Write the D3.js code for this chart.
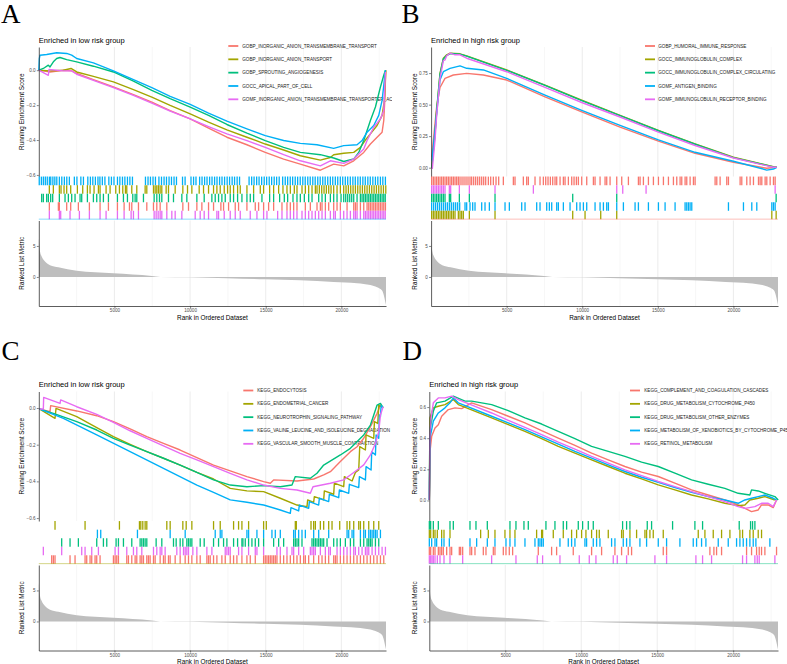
<!DOCTYPE html>
<html>
<head>
<meta charset="utf-8">
<script src="https://cdn.jsdelivr.net/npm/d3@7"></script>
<style>
body { margin: 0; background: #fff; }
svg { display: block; }
text { font-family: "Liberation Sans", Arial, sans-serif; }
</style>
</head>
<body>
<svg id="fig" width="787" height="664"></svg>
<script>

// ---- data ----

var seriesColors = ["#F8766D", "#A3A500", "#00BF7D", "#00B0F6", "#E76BF3"];
var panelLetters = ["A", "B", "C", "D"];
var panelTitles = ["Enriched in low risk group", "Enriched in high risk group", "Enriched in low risk group", "Enriched in high risk group"];
var rankTicks = [5000, 10000, 15000, 20000];
var gridRanks = [2500, 5000, 7500, 10000, 12500, 15000, 17500, 20000, 22500];
var rankMax = 22950;

var metricTicks = [0, 5];
var metricDomain = [-4.68, 9.1];
// ranked list metric (same ranked list for all four panels)
var metricRank  = [0, 40, 80, 190, 410, 741, 1293, 2506, 4933, 7470, 8021, 10007, 12434, 14970, 17287, 19493, 21037, 21920, 22361, 22692, 22802, 22913, 22950];
var metricValue = [6.2, 5.0, 4.1, 3.3, 2.5, 1.9, 1.56, 1.0, 0.6, 0.16, 0.0, -0.06, -0.22, -0.38, -0.54, -0.8, -1.0, -1.3, -1.66, -2.2, -2.9, -4.1, -4.5];

// panel A
var namesA = ["GOBP_INORGANIC_ANION_TRANSMEMBRANE_TRANSPORT", "GOBP_INORGANIC_ANION_TRANSPORT", "GOBP_SPROUTING_ANGIOGENESIS", "GOCC_APICAL_PART_OF_CELL", "GOMF_INORGANIC_ANION_TRANSMEMBRANE_TRANSPORTER_ACTIVITY"];
var esTicksA = [-0.6, -0.4, -0.2, 0.0];
var esDomainA = [-0.609, 0.133];
var rugOrderA = [3, 1, 2, 0, 4];
var esA = [
  [[0,0],[300,-0.004],[741,-0.01],[1624,0],[2175,-0.004],[2506,-0.019],[3609,-0.054],[4933,-0.096],[6256,-0.14],[7470,-0.183],[8683,-0.231],[10007,-0.279],[11220,-0.332],[12434,-0.384],[13757,-0.427],[14970,-0.471],[16184,-0.509],[17287,-0.538],[18610,-0.573],[19493,-0.538],[20154,-0.548],[20816,-0.519],[21478,-0.471],[21920,-0.423],[22361,-0.384],[22692,-0.355],[22802,-0.288],[22868,-0.173],[22935,0]],
  [[0,0],[741,-0.004],[1624,0],[2131,0.01],[2506,-0.01],[3609,-0.035],[4933,-0.067],[6256,-0.111],[7470,-0.154],[8683,-0.202],[10007,-0.25],[11220,-0.298],[12434,-0.342],[13757,-0.384],[14970,-0.423],[16184,-0.457],[17287,-0.49],[18610,-0.515],[19272,-0.5],[19493,-0.484],[20154,-0.476],[20816,-0.471],[21258,-0.442],[21589,-0.4],[21920,-0.365],[22361,-0.317],[22692,-0.259],[22846,-0.173],[22935,0]],
  [[0,0],[300,0.01],[631,0.029],[741,0.019],[962,0.048],[1182,0.067],[1403,0.073],[1844,0.061],[2506,0.048],[3609,0.023],[4933,-0.01],[6256,-0.063],[7470,-0.115],[8683,-0.163],[10007,-0.211],[11220,-0.259],[12434,-0.311],[13757,-0.361],[14970,-0.403],[16184,-0.442],[17287,-0.471],[18610,-0.484],[19493,-0.503],[20155,-0.523],[20816,-0.509],[21147,-0.471],[21478,-0.403],[21920,-0.288],[22251,-0.211],[22582,-0.096],[22802,-0.029],[22913,0]],
  [[0,0],[35,0.067],[79,0.086],[521,0.09],[1182,0.1],[1844,0.096],[2175,0.086],[2506,0.067],[3609,0.042],[4933,-0.004],[6256,-0.054],[7470,-0.1],[8683,-0.15],[10007,-0.196],[11220,-0.246],[12434,-0.292],[13757,-0.336],[14970,-0.375],[16184,-0.403],[17287,-0.419],[18390,-0.427],[19493,-0.448],[20155,-0.432],[21037,-0.427],[21368,-0.403],[21699,-0.355],[22140,-0.317],[22471,-0.259],[22692,-0.173],[22913,0]],
  [[0,0],[631,-0.029],[675,0.004],[1624,-0.004],[2175,-0.004],[2506,-0.023],[3609,-0.058],[4933,-0.1],[6256,-0.144],[7470,-0.188],[8683,-0.234],[10007,-0.279],[11220,-0.323],[12434,-0.365],[13757,-0.403],[14970,-0.442],[16184,-0.484],[17287,-0.519],[18610,-0.548],[19272,-0.519],[20154,-0.534],[20816,-0.509],[21478,-0.451],[21699,-0.403],[22140,-0.327],[22582,-0.279],[22802,-0.231],[22913,-0.01]]
];
var hitsA = [
  [697,1293,1359,1844,2109,2616,3344,4050,4602,5197,5639,5992,6146,6588,7139,7580,7800,8021,8462,9521,9896,10448,10779,11220,11551,12036,12213,12544,12985,13205,13757,14309,14529,14860,15191,15522,16074,16405,16625,16846,17066,17618,17949,18390,18611,18721,18942,19162,19493,19714,19934,20376,20817,20927,21037,21258,21479,21699,21810,21920,22030,22140,22251,22361,22471,22582,22692,22802,22912],
  [697,962,1359,1469,1668,1844,2109,2550,2903,3212,3388,3653,3940,4050,4447,4712,5087,5330,5550,5727,5815,6146,6477,7029,7139,7580,7690,7800,7910,8020,8130,8418,8573,9014,9521,9830,10117,10602,10889,11220,11551,11772,11992,12257,12478,12654,12875,13140,13316,13758,14199,14640,14860,15258,15522,15853,16140,16405,16626,16890,17067,17398,17618,17839,18060,18280,18390,18545,18700,18854,19008,19163,19317,19493,19714,19934,20155,20309,20464,20618,20773,20927,21082,21236,21390,21545,21699,21854,22008,22162,22317,22471,22626,22780,22935],
  [190,300,521,631,785,918,1359,1734,1954,2175,2396,2727,2837,3212,3609,3830,4050,4271,4602,5197,5595,5859,6212,6367,6477,6918,7624,7800,7977,8131,8572,8903,9455,9786,10448,10933,11440,11661,11882,12102,12323,12654,12875,13140,13427,13758,13978,14199,14750,15258,15522,15919,16228,16449,16802,17066,17287,17552,17839,18060,18501,18721,18942,19273,19493,19714,19979,20155,20287,20419,20552,20684,20816,21037,21258,21368,21478,21589,21699,21810,21920,22030,22140,22251,22361,22471,22582,22692,22802,22900],
  [30,170,300,430,560,700,790,930,1060,1190,1360,1520,1690,1850,2020,2350,2520,2780,2950,3240,3410,3570,3740,3910,4040,4200,4370,4630,4800,4970,5200,5360,5530,5690,5860,6020,6190,7050,7220,7380,7550,7710,7940,8110,8280,8440,8610,8770,8940,9100,9500,9670,10060,10230,10390,10630,10790,10960,11120,11290,11450,11620,11780,11950,12110,12280,12450,12610,12780,12940,13110,13270,13900,14070,14230,14400,14560,14730,14900,15060,15230,15390,15560,15720,15890,16120,16290,16450,16620,16780,16950,17110,17280,17450,17610,17780,17940,18110,18270,18440,18600,18770,18930,19100,19270,19430,19600,19760,19930,20090,20260,20420,20590,20760,20920,21090,21250,21420,21580,21750,21910,22080,22250,22410,22580,22740,22910],
  [697,1359,1447,2065,2683,3344,4050,4447,5197,5639,6102,6256,6587,7624,7756,7889,8021,8131,8462,8793,9014,9455,10338,10669,10933,11220,11771,11882,12257,12654,12985,13316,13978,14419,14860,15081,15787,16074,16405,16625,16846,17066,17397,17618,17839,18059,18280,18501,18721,18942,19273,19493,19604,19934,20155,20376,20596,20817,20927,21037,21258,21479,21589,21699,21810,21920,22030,22140,22251,22361,22471,22582,22692,22802,22900]
];

// panel B
var namesB = ["GOBP_HUMORAL_IMMUNE_RESPONSE", "GOCC_IMMUNOGLOBULIN_COMPLEX", "GOCC_IMMUNOGLOBULIN_COMPLEX_CIRCULATING", "GOMF_ANTIGEN_BINDING", "GOMF_IMMUNOGLOBULIN_RECEPTOR_BINDING"];
var esTicksB = [0.00, 0.25, 0.50, 0.75];
var esDomainB = [-0.07, 0.957];
var rugOrderB = [0, 4, 2, 3, 1];
var esB = [
  [[37,0.083],[148,0.216],[368,0.482],[589,0.636],[920,0.708],[1472,0.735],[2354,0.748],[3457,0.735],[5001,0.695],[7538,0.562],[9965,0.442],[12501,0.322],[15038,0.21],[17464,0.114],[20001,0.043],[22207,-0.005],[22868,0.003]],
  [[37,0],[258,0.269],[368,0.455],[589,0.748],[810,0.868],[1030,0.895],[1251,0.908],[1913,0.903],[2354,0.887],[5001,0.775],[7538,0.655],[9965,0.535],[12501,0.415],[15038,0.296],[17464,0.189],[20001,0.083],[22648,0.008],[22868,0.003]],
  [[37,0],[258,0.262],[368,0.45],[589,0.742],[810,0.862],[1030,0.89],[1300,0.905],[1913,0.9],[2354,0.884],[5001,0.772],[7538,0.652],[9965,0.532],[12501,0.412],[15038,0.293],[17464,0.186],[20001,0.08],[22648,0.006],[22868,0.003]],
  [[37,0.056],[148,0.162],[368,0.429],[589,0.695],[810,0.761],[1251,0.788],[1913,0.807],[2354,0.788],[3457,0.775],[5001,0.708],[7538,0.575],[9965,0.455],[12501,0.335],[15038,0.221],[17464,0.122],[20001,0.051],[22207,-0.019],[22648,-0.011],[22868,0.003]],
  [[80,-0.01],[258,0.216],[368,0.415],[589,0.708],[810,0.849],[920,0.855],[1030,0.887],[1251,0.908],[1582,0.895],[1913,0.895],[2354,0.868],[5001,0.761],[7538,0.636],[9965,0.517],[12501,0.402],[15038,0.282],[17464,0.176],[20001,0.077],[22648,0.003],[22868,0.003]]
];
var hitsB = [
  [37,148,258,368,479,589,699,810,920,1030,1141,1251,1361,1472,1582,1692,1802,1913,2045,2177,2310,2442,2574,2685,2817,2949,3082,3214,3347,3479,3611,3788,3942,4119,4295,4471,4780,5442,5552,6103,6324,6434,6875,7206,7427,7582,7736,7891,8045,8199,8310,8531,8751,8862,9082,9303,9457,9612,9744,9965,10296,10737,10847,11178,11509,11619,11840,12281,12612,13053,13715,13825,14046,14377,14708,15039,15370,15701,16032,16252,16473,16583,16804,16914,17135,17355,17466,18789,18900,19120,19561,19672,20444,20554,20885,21106,21327,21658,21768,21878,22099,22209,22430,22650,22761],
  [37,148,258,368,479,589,699,810,920,1030,1141,1251,1361,1472,1582,1802,1913,2023,2133,2530,4229,9369,10185,11222,12281,22540,22827],
  [37,148,258,368,479,589,699,810,920,1207,1295,1869,2530,4229,9369,12281,22827],
  [37,170,302,434,567,699,832,964,1096,1229,1361,1493,1626,1758,1891,2244,2354,2574,2751,2905,3347,3567,3854,4229,4891,5177,5994,6214,6986,7206,7648,7824,7979,8310,8420,8751,9192,9633,9854,10075,10295,10847,11178,11399,11619,11730,12281,12722,13494,13715,14377,15039,15480,16141,16803,16914,17024,17134,17245,19672,20665,21216,21547,22540,22650,22761],
  [37,148,258,368,479,589,699,810,920,1207,1295,1869,2530,4229,6766,12281,12678,14222,22761]
];

// panel C
var namesC = ["KEGG_ENDOCYTOSIS", "KEGG_ENDOMETRIAL_CANCER", "KEGG_NEUROTROPHIN_SIGNALING_PATHWAY", "KEGG_VALINE_LEUCINE_AND_ISOLEUCINE_DEGRADATION", "KEGG_VASCULAR_SMOOTH_MUSCLE_CONTRACTION"];
var esTicksC = [-0.6, -0.4, -0.2, 0.0];
var esDomainC = [-0.616, 0.09];
var rugOrderC = [1, 3, 2, 4, 0];
var esC = [
  [[35,-0.005],[741,-0.02],[785,0.013],[2506,-0.016],[3830,-0.042],[4933,-0.074],[6036,-0.114],[7139,-0.156],[8242,-0.193],[9345,-0.229],[10448,-0.271],[11551,-0.311],[12654,-0.343],[13757,-0.374],[14860,-0.401],[15301,-0.41],[15522,-0.392],[17066,-0.398],[18169,-0.387],[18831,-0.365],[19272,-0.347],[19934,-0.292],[20596,-0.238],[21037,-0.211],[21478,-0.165],[21920,-0.102],[22361,-0.029],[22582,0.016],[22758,0.002]],
  [[35,-0.005],[1072,-0.056],[1138,-0.002],[2506,-0.047],[3830,-0.107],[4933,-0.156],[6036,-0.198],[7139,-0.238],[8242,-0.274],[9345,-0.311],[10448,-0.351],[11551,-0.387],[12654,-0.438],[13757,-0.452],[14860,-0.456],[15963,-0.492],[17066,-0.529],[17728,-0.538],[17772,-0.501],[18169,-0.514],[18213,-0.483],[18831,-0.501],[18875,-0.452],[19493,-0.47],[19537,-0.41],[20154,-0.429],[20199,-0.374],[20706,-0.398],[20927,-0.351],[21147,-0.338],[21213,-0.211],[21588,-0.229],[21632,-0.147],[22140,-0.165],[22184,-0.074],[22405,-0.084],[22471,0.016],[22758,0.002]],
  [[35,-0.005],[962,-0.029],[2506,-0.074],[3830,-0.12],[4933,-0.165],[6036,-0.202],[7139,-0.238],[8242,-0.274],[9345,-0.311],[10448,-0.351],[11551,-0.392],[12654,-0.42],[13757,-0.429],[14860,-0.423],[15963,-0.429],[16735,-0.42],[16955,-0.374],[17948,-0.383],[18390,-0.356],[18831,-0.311],[19934,-0.256],[20596,-0.22],[21478,-0.147],[21920,-0.093],[22361,0.016],[22582,0.025],[22758,0.002]],
  [[35,-0.005],[1624,-0.056],[3830,-0.147],[6036,-0.238],[8242,-0.329],[10448,-0.42],[11551,-0.46],[12654,-0.501],[13757,-0.514],[14860,-0.529],[15963,-0.556],[16625,-0.574],[16669,-0.543],[17177,-0.561],[17221,-0.529],[17838,-0.547],[17883,-0.51],[18500,-0.529],[18544,-0.492],[19162,-0.51],[19206,-0.47],[19823,-0.489],[19868,-0.447],[20485,-0.465],[20529,-0.416],[21147,-0.434],[21191,-0.374],[21588,-0.392],[21632,-0.32],[21963,-0.338],[22007,-0.238],[22251,-0.256],[22295,-0.147],[22471,-0.165],[22515,-0.038],[22582,-0.047],[22626,0.013],[22758,0.002]],
  [[35,-0.005],[300,-0.005],[322,0.058],[1403,0.025],[1447,0.044],[2506,0.007],[3830,-0.035],[4933,-0.078],[6036,-0.124],[7139,-0.165],[8242,-0.207],[9345,-0.247],[10448,-0.283],[11551,-0.32],[12654,-0.356],[13757,-0.392],[14860,-0.42],[15963,-0.438],[17066,-0.447],[17948,-0.465],[18125,-0.429],[19272,-0.41],[20154,-0.392],[20596,-0.365],[21037,-0.338],[21478,-0.31],[21920,-0.256],[22251,-0.193],[22471,-0.129],[22582,-0.038],[22758,0.007]]
];
var hitsC = [
  [852,962,1072,2065,2396,3058,3168,3388,3499,3719,3830,4050,4933,5043,5153,5264,5815,5925,6146,6367,6477,6698,6808,6918,7139,7249,7359,7580,7690,8021,8241,8351,8572,8683,9014,9344,9675,9896,10117,10448,10669,11110,11220,11330,11551,11772,12102,12323,12654,12875,13095,13426,13757,13978,14309,14860,14970,15081,15191,15301,15412,15522,15632,15742,15963,16184,16405,16626,16846,17066,17287,17508,17618,17839,18169,18501,18721,18942,19162,19493,19604,19714,19934,20155,20376,20596,20817,21037,21258,21478,21699,21920,22140,22361,22582,22802],
  [1072,3058,5330,6653,6742,6874,7029,7139,8462,8683,9521,9742,10117,11551,11992,12875,13205,13426,13868,14860,15037,16956,17022,17993,18169,18280,18610,18831,19162,19383,19890,20376,20552,20817,21147,21258,21478,21809,22140,22471],
  [1513,2065,2616,3830,4271,4492,5109,5264,5595,6146,6698,6808,6918,7029,7139,7756,8131,8903,9080,9344,9521,9786,9896,10007,10117,10669,10933,11551,11882,12213,12434,12875,13140,13426,13492,13647,13867,14088,14309,14529,14860,15522,15853,16184,16846,16956,17066,17177,17397,18059,18169,18280,18390,18501,18611,18721,18831,19052,19493,19714,19934,20265,20596,20817,21258,21478,21699,21810,21920,22030,22251,22471],
  [3874,4094,6521,8683,9676,11661,11992,12102,13757,13868,14419,14860,15411,15632,15963,16846,16956,17177,17397,17618,18169,18501,19162,20376,20486,20706,20817,21258,21478,21589,21810,21920,22030,22140,22251,22361,22582],
  [300,1513,2837,3058,3499,3940,5043,5264,5815,6256,6477,6808,7580,7800,8021,8131,8351,9123,9344,9565,9676,9786,9896,10183,10448,11110,11441,12323,12434,12544,12654,13205,13426,13867,14309,14419,14860,15742,15963,16405,16736,16846,17177,17508,17949,18059,18169,18280,18611,18942,19162,19273,19714,19934,20155,20376,20596,20817,20927,21147,21368,21589,21699,21810,22030,22251,22471,22692,22912]
];

// panel D
var namesD = ["KEGG_COMPLEMENT_AND_COAGULATION_CASCADES", "KEGG_DRUG_METABOLISM_CYTOCHROME_P450", "KEGG_DRUG_METABOLISM_OTHER_ENZYMES", "KEGG_METABOLISM_OF_XENOBIOTICS_BY_CYTOCHROME_P450", "KEGG_RETINOL_METABOLISM"];
var esTicksD = [0.0, 0.2, 0.4, 0.6];
var esDomainD = [-0.132, 0.70];
var rugOrderD = [2, 1, 3, 0, 4];
var esD = [
  [[0,0.003],[46,0.315],[156,0.412],[375,0.466],[594,0.487],[814,0.541],[1252,0.584],[1691,0.595],[2130,0.59],[2787,0.627],[4103,0.584],[5199,0.541],[6296,0.498],[7392,0.448],[8489,0.401],[9585,0.354],[10682,0.304],[11778,0.261],[12875,0.218],[13971,0.182],[15068,0.154],[16164,0.111],[17261,0.068],[18357,0.035],[19454,0.003],[20331,-0.029],[21208,-0.072],[21647,-0.061],[21866,-0.029],[22305,-0.029],[22634,-0.046],[22853,0.003]],
  [[0,0.003],[46,0.53],[265,0.595],[594,0.605],[1033,0.616],[1581,0.648],[1910,0.616],[4103,0.53],[5199,0.487],[6296,0.444],[7392,0.397],[8489,0.347],[9585,0.304],[10682,0.261],[11778,0.218],[12875,0.175],[13971,0.139],[15068,0.1],[16164,0.068],[17261,0.035],[18357,0.01],[19454,-0.018],[20331,-0.033],[20770,-0.029],[21099,0.003],[21647,0.014],[22086,0.025],[22743,0.003]],
  [[0,0.003],[24,0.315],[68,0.466],[265,0.573],[485,0.627],[1033,0.638],[1581,0.67],[2349,0.638],[2787,0.638],[4103,0.616],[5199,0.577],[6296,0.53],[7392,0.491],[8489,0.444],[9585,0.397],[10682,0.347],[11778,0.315],[12875,0.283],[13971,0.246],[15068,0.218],[16164,0.175],[17261,0.132],[18357,0.104],[19454,0.078],[20331,0.046],[21099,0.035],[21208,0.068],[21647,0.061],[22086,0.046],[22743,0.025],[22963,0.003]],
  [[0,0.003],[46,0.401],[265,0.509],[594,0.562],[1033,0.595],[1362,0.627],[1581,0.659],[1910,0.627],[4103,0.541],[5199,0.498],[6296,0.455],[7392,0.408],[8489,0.362],[9585,0.315],[10682,0.272],[11778,0.229],[12875,0.186],[13971,0.149],[15068,0.117],[16164,0.083],[17261,0.053],[18357,0.025],[19454,0.003],[20331,-0.018],[20770,0.003],[21208,0.014],[21647,0.025],[22086,0.035],[22634,0.014],[22853,0.003]],
  [[0,0.003],[46,0.423],[112,0.53],[265,0.627],[594,0.659],[1033,0.659],[1471,0.67],[1910,0.648],[3007,0.605],[4103,0.562],[5199,0.515],[6296,0.47],[7392,0.423],[8489,0.375],[9585,0.33],[10682,0.283],[11778,0.24],[12875,0.197],[13971,0.16],[15068,0.122],[16164,0.089],[17261,0.057],[18357,0.025],[19454,-0.008],[20331,-0.04],[20770,-0.051],[21428,-0.04],[21866,-0.018],[22305,-0.018],[22634,-0.04],[22853,0.003]]
];
var hitsD = [
  [2,90,265,375,594,704,813,923,1143,1362,1472,1976,2064,2196,2678,2788,3007,3555,3730,4213,4322,4871,5046,5265,5484,7173,8050,8379,9475,10682,11340,12217,12656,13095,13314,15398,15617,18468,18731,18907,19236,20881,21210,21539,21714,21867,22087,22854],
  [2,90,265,375,528,813,967,1362,3379,3884,4322,4980,5309,5638,7063,7392,7458,8160,8818,9366,9695,10024,10309,10682,11011,11187,11779,12656,12766,13205,13643,14192,14301,14520,14740,15398,17701,18140,18688,19236,19785,20443,20618,21100,21319,21648,21867],
  [2,90,265,594,1362,1581,2678,3072,3818,5309,5704,6230,6515,7677,8270,8818,9038,9805,10090,10463,10792,12722,12985,13205,14345,14630,16012,17481,17986,20398,21144,21275,21429],
  [2,156,375,484,813,967,1318,2678,3116,3818,4322,5046,5309,5638,6296,6954,7173,7283,7392,7502,8599,9146,9366,9585,10243,10353,10792,11011,11231,11998,12218,12766,12985,13205,13863,14301,15069,15617,16494,17372,17591,17920,18205,19017,19675,20223,20443,20662,20881,21100,21319,21495,22415],
  [2,90,178,265,375,528,704,967,1362,2196,4103,5704,7107,7458,8599,9871,10529,10967,12108,12371,12985,14849,15617,17547,17986,18578,20618,20881,21429,21583,21714,22745]
];

// ---- layout ----

var panels = [
  {names: namesA, es: esA, hits: hitsA, esTicks: esTicksA, esDomain: esDomainA, rugOrder: rugOrderA, fmt: d3.format(".1f"),
   clipX: 0, clipW: 392, clipY: 0, clipH: 330, top: 0, letterX: 1, letterY: 22.7, titleOffset: 21.5, axisX: 38.8, right: 386, legLineX: 228.3, legTextX: 242.3},
  {names: namesB, es: esB, hits: hitsB, esTicks: esTicksB, esDomain: esDomainB, rugOrder: rugOrderB, fmt: d3.format(".2f"),
   clipX: 393, clipW: 394, clipY: 0, clipH: 330, top: 0, letterX: 401.5, letterY: 22.7, titleOffset: 414.7, axisX: 431.1, right: 778, legLineX: 645, legTextX: 658.3},
  {names: namesC, es: esC, hits: hitsC, esTicks: esTicksC, esDomain: esDomainC, rugOrder: rugOrderC, fmt: d3.format(".1f"),
   clipX: 0, clipW: 392, clipY: 330, clipH: 334, top: 344.5, letterX: 1.5, letterY: 359.5, titleOffset: 21.5, axisX: 38.8, right: 386, legLineX: 243.3, legTextX: 257.3},
  {names: namesD, es: esD, hits: hitsD, esTicks: esTicksD, esDomain: esDomainD, rugOrder: rugOrderD, fmt: d3.format(".1f"),
   clipX: 393, clipW: 394, clipY: 330, clipH: 334, top: 344.5, letterX: 402.5, letterY: 359.5, titleOffset: 414.7, axisX: 429.3, right: 778, legLineX: 630, legTextX: 644.3}
];

var svg = d3.select("#fig");
var defs = svg.append("defs");

var metricData = metricRank.map((r, i) => [r, metricValue[i]]);

function styleAxis(sel) {
	sel.select(".domain").attr("stroke", "#333").attr("stroke-width", 0.8);
	sel.selectAll(".tick line").attr("stroke", "#333").attr("stroke-width", 0.6);
	sel.selectAll(".tick text")
		.attr("fill", "#4d4d4d")
		.style("font-size", "4.6px")
		.style("font-family", "'Liberation Sans', Arial, sans-serif");
}

panels.forEach(function(p, pi) {

	var t = p.top;
	var esTop = t + 47, esBot = t + 176.5;
	var rugTop = t + 176.6, rugRowH = 8.55;
	var metTop = t + 220.5, metBot = t + 306;

	defs.append("clipPath").attr("id", "clip" + pi)
		.append("rect")
		.attr("x", p.clipX).attr("y", p.clipY)
		.attr("width", p.clipW).attr("height", p.clipH);

	var g = svg.append("g").attr("clip-path", "url(#clip" + pi + ")");

	var x = d3.scaleLinear().domain([0, rankMax]).range([p.axisX, p.right]);
	var y = d3.scaleLinear().domain(p.esDomain).range([esBot, esTop]);
	var ym = d3.scaleLinear().domain(metricDomain).range([metBot, metTop]);

	// panel letter
	g.append("text")
		.attr("x", p.letterX).attr("y", p.letterY)
		.style("font-family", "'Liberation Serif', 'Times New Roman', serif")
		.style("font-size", "27px")
		.attr("fill", "#000")
		.text(panelLetters[pi]);

	// title
	g.append("text")
		.attr("x", p.axisX).attr("y", t + 42.6)
		.style("font-size", "7.5px")
		.attr("fill", "#000")
		.text(panelTitles[pi]);

	// grid lines (ES panel + metric panel)
	[[esTop, esBot], [metTop, metBot]].forEach(function(span) {
		g.selectAll(null)
			.data(gridRanks)
			.enter()
			.append("line")
			.attr("x1", d => x(d)).attr("x2", d => x(d))
			.attr("y1", span[0]).attr("y2", span[1])
			.attr("stroke", d => d % 5000 == 0 ? "#e4e4e4" : "#efefef")
			.attr("stroke-width", d => d % 5000 == 0 ? 0.7 : 0.5);
	});

	// legend
	var legY = esTop - 1, legStep = 13.33;
	g.selectAll("line.key")
		.data(p.names)
		.enter()
		.append("line")
		.attr("class", "key")
		.attr("x1", p.legLineX).attr("x2", p.legLineX + 10)
		.attr("y1", (d, i) => legY + i * legStep).attr("y2", (d, i) => legY + i * legStep)
		.attr("stroke", (d, i) => seriesColors[i])
		.attr("stroke-width", 1.8);

	g.selectAll("text.key")
		.data(p.names)
		.enter()
		.append("text")
		.attr("class", "key")
		.attr("x", p.legTextX)
		.attr("y", (d, i) => legY + i * legStep)
		.attr("dy", "0.35em")
		.style("font-size", "4.6px")
		.attr("fill", "#1a1a1a")
		.text(d => d);

	// running enrichment score curves
	var line = d3.line().x(d => x(d[0])).y(d => y(d[1]));
	g.selectAll("path.es")
		.data(p.es)
		.enter()
		.append("path")
		.attr("class", "es")
		.attr("d", line)
		.attr("fill", "none")
		.attr("stroke", (d, i) => seriesColors[i])
		.attr("stroke-width", 1.4)
		.attr("stroke-linejoin", "round");

	// ES axis
	var esAxis = g.append("g")
		.attr("transform", "translate(" + p.axisX + ",0)")
		.call(d3.axisLeft(y).tickValues(p.esTicks).tickFormat(p.fmt).tickSize(2).tickSizeOuter(0).tickPadding(1.2));
	styleAxis(esAxis);

	// rug of hits
	p.rugOrder.forEach(function(si, row) {
		var r0 = rugTop + row * rugRowH;
		g.selectAll(null)
			.data(p.hits[si])
			.enter()
			.append("line")
			.attr("x1", d => x(d)).attr("x2", d => x(d))
			.attr("y1", r0).attr("y2", r0 + rugRowH)
			.attr("stroke", seriesColors[si])
			.attr("stroke-width", 1.3);
	});

	g.append("line")
		.attr("x1", p.axisX).attr("x2", p.right)
		.attr("y1", rugTop + 5 * rugRowH - 0.2).attr("y2", rugTop + 5 * rugRowH - 0.2)
		.attr("stroke", seriesColors[p.rugOrder[0]])
		.attr("stroke-opacity", 0.6)
		.attr("stroke-width", 0.8);

	// ranked list metric
	var area = d3.area()
		.curve(d3.curveMonotoneX)
		.x(d => x(d[0]))
		.y0(ym(0))
		.y1(d => ym(d[1]));

	g.append("path")
		.datum(metricData)
		.attr("d", area)
		.attr("fill", "#bebebe");

	var mAxis = g.append("g")
		.attr("transform", "translate(" + p.axisX + ",0)")
		.call(d3.axisLeft(ym).tickValues(metricTicks).tickFormat(d3.format("d")).tickSize(2).tickSizeOuter(0).tickPadding(1.2));
	styleAxis(mAxis);

	var xAxis = g.append("g")
		.attr("transform", "translate(0," + metBot + ")")
		.call(d3.axisBottom(x).tickValues(rankTicks).tickFormat(d3.format("d")).tickSize(2).tickSizeOuter(0).tickPadding(1.2));
	styleAxis(xAxis);

	// axis titles
	g.append("text")
		.attr("transform", "translate(" + p.titleOffset + "," + ((esTop + esBot) / 2) + ") rotate(-90)")
		.attr("text-anchor", "middle")
		.attr("dy", "0.35em")
		.style("font-size", "6.4px")
		.text("Running Enrichment Score");

	g.append("text")
		.attr("transform", "translate(" + p.titleOffset + "," + ((metTop + metBot) / 2) + ") rotate(-90)")
		.attr("text-anchor", "middle")
		.attr("dy", "0.35em")
		.style("font-size", "6.4px")
		.text("Ranked List Metric");

	g.append("text")
		.attr("x", (p.axisX + p.right) / 2)
		.attr("y", metBot + 13.5)
		.attr("text-anchor", "middle")
		.style("font-size", "6.4px")
		.text("Rank in Ordered Dataset");

});

</script>
</body>
</html>
